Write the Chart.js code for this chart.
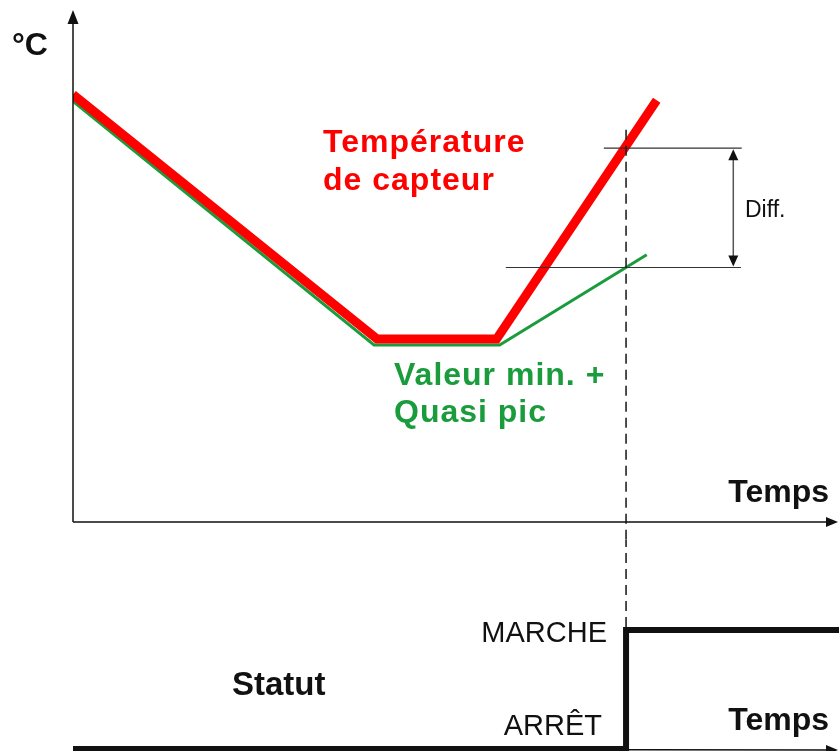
<!DOCTYPE html>
<html>
<head>
<meta charset="utf-8">
<script src="https://cdn.jsdelivr.net/npm/chart.js@4/dist/chart.umd.min.js"></script>
<style>
  body { margin: 0; background: #fff; }
  #wrap { position: relative; width: 839px; height: 751px; overflow: hidden; }
  canvas { position: absolute; left: 0; }
  #temp { top: 0; }
  #status { top: 540px; }
</style>
</head>
<body>
<div id="wrap">
  <canvas id="temp" width="839" height="540"></canvas>
  <canvas id="status" width="839" height="211"></canvas>
</div>
<script>
// Sensor temperature (red) and min value + quasi peak (green), time on x
const timeSensor = [0, 39.7, 55.3, 76.2];
const tempSensor = [83.8, 35.9, 35.9, 82.7];
const timeMinPeak = [0, 39.3, 55.7, 74.9];
const tempMinPeak = [82.5, 34.7, 34.7, 52.4];

// Switching point and the differential it is based on
const switchTime = 72.2;
const diffHigh = 73.3;
const diffLow = 49.9;

// Status: 0 = ARRÊT, 1 = MARCHE
const statusTime = [0, switchTime, 100];
const statusValues = [0, 1, 1];
const statusLabels = ['ARRÊT', 'MARCHE'];

const RED = '#ff0000';
const GREEN = '#1a9c3c';
const INK = '#111';
const FONT = '"Liberation Sans", Arial, sans-serif';

const toPoints = (xs, ys) => xs.map((x, i) => ({ x, y: ys[i] }));

function text(ctx, str, x, y, { size = 32, bold = true, color = INK, align = 'left', spacing = 0 } = {}) {
    ctx.save();
    ctx.font = `${bold ? 'bold ' : ''}${size}px ${FONT}`;
    ctx.fillStyle = color;
    ctx.textAlign = align;
    ctx.textBaseline = 'alphabetic';
    if (spacing) ctx.letterSpacing = `${spacing}px`;
    ctx.fillText(str, x, y);
    ctx.restore();
}

function arrowHead(ctx, tipX, tipY, dir, len, half) {
    // dir: 'up' | 'down' | 'right'
    ctx.beginPath();
    ctx.moveTo(tipX, tipY);
    if (dir === 'up') {
        ctx.lineTo(tipX - half, tipY + len);
        ctx.lineTo(tipX + half, tipY + len);
    } else if (dir === 'down') {
        ctx.lineTo(tipX - half, tipY - len);
        ctx.lineTo(tipX + half, tipY - len);
    } else {
        ctx.lineTo(tipX - len, tipY - half);
        ctx.lineTo(tipX - len, tipY + half);
    }
    ctx.closePath();
    ctx.fill();
}

function vDashed(ctx, x, y1, y2) {
    ctx.save();
    ctx.strokeStyle = '#222';
    ctx.lineWidth = 1.6;
    ctx.setLineDash([10, 6]);
    ctx.beginPath();
    ctx.moveTo(x, y1);
    ctx.lineTo(x, y2);
    ctx.stroke();
    ctx.restore();
}

const tempDecor = {
    id: 'tempDecor',
    afterDatasetsDraw(chart) {
        const { ctx, chartArea: a, scales: { x, y } } = chart;
        const sx = x.getPixelForValue(switchTime);
        const yHigh = y.getPixelForValue(diffHigh);
        const yLow = y.getPixelForValue(diffLow);
        const arrowX = x.getPixelForValue(86.2);

        // threshold lines
        ctx.save();
        ctx.strokeStyle = '#333';
        ctx.lineWidth = 1.2;
        ctx.beginPath();
        ctx.moveTo(x.getPixelForValue(69.3), yHigh);
        ctx.lineTo(x.getPixelForValue(87.3), yHigh);
        ctx.moveTo(x.getPixelForValue(56.5), yLow);
        ctx.lineTo(x.getPixelForValue(87.2), yLow);
        ctx.stroke();

        // Diff. arrow
        ctx.strokeStyle = '#555';
        ctx.lineWidth = 1.5;
        ctx.beginPath();
        ctx.moveTo(arrowX, yHigh + 8);
        ctx.lineTo(arrowX, yLow - 8);
        ctx.stroke();
        ctx.fillStyle = INK;
        arrowHead(ctx, arrowX, yHigh + 1, 'up', 11, 5);
        arrowHead(ctx, arrowX, yLow - 1, 'down', 11, 5);
        ctx.restore();

        vDashed(ctx, sx, y.getPixelForValue(76.9), chart.height);

        // axes with arrows
        ctx.save();
        ctx.strokeStyle = INK;
        ctx.fillStyle = INK;
        ctx.lineWidth = 1.5;
        ctx.beginPath();
        ctx.moveTo(a.left, a.bottom);
        ctx.lineTo(a.left, a.top + 6);
        ctx.moveTo(a.left, a.bottom);
        ctx.lineTo(a.right - 6, a.bottom);
        ctx.stroke();
        arrowHead(ctx, a.left, a.top - 2, 'up', 14, 5.5);
        arrowHead(ctx, a.right - 1, a.bottom, 'right', 12, 5);
        ctx.restore();

        text(ctx, '°C', 12, 55, { size: 32 });
        text(ctx, 'Temps', 829, 502, { size: 32, align: 'right' });
        text(ctx, 'Diff.', 745, 217, { size: 23, bold: false });
        text(ctx, 'Température', 323, 152, { color: RED, spacing: 1 });
        text(ctx, 'de capteur', 323, 190, { color: RED, spacing: 1 });
        text(ctx, 'Valeur min. +', 394, 385, { color: GREEN, spacing: 1 });
        text(ctx, 'Quasi pic', 394, 422, { color: GREEN, spacing: 1 });
    },
};

const statusDecor = {
    id: 'statusDecor',
    beforeDatasetsDraw(chart) {
        const { ctx, chartArea: a, scales: { x, y } } = chart;
        vDashed(ctx, x.getPixelForValue(switchTime), -3, y.getPixelForValue(1));
        ctx.save();
        ctx.strokeStyle = INK;
        ctx.fillStyle = INK;
        ctx.lineWidth = 1.5;
        ctx.beginPath();
        ctx.moveTo(a.left, y.getPixelForValue(0));
        ctx.lineTo(a.right - 6, y.getPixelForValue(0) + 1);
        ctx.stroke();
        arrowHead(ctx, a.right - 1, y.getPixelForValue(0) + 1, 'right', 12, 5);
        ctx.restore();
    },
    afterDatasetsDraw(chart) {
        const { ctx, scales: { y } } = chart;
        text(ctx, statusLabels[1], 607, y.getPixelForValue(1) + 12, { size: 29, bold: false, align: 'right' });
        text(ctx, statusLabels[0], 602, y.getPixelForValue(0) - 14, { size: 29, bold: false, align: 'right' });
        text(ctx, 'Statut', 232, 155, { size: 33 });
        text(ctx, 'Temps', 829, 190, { size: 32, align: 'right' });
    },
};

const common = {
    responsive: false,
    animation: false,
    devicePixelRatio: 1,
    events: [],
    plugins: { legend: { display: false }, tooltip: { enabled: false } },
    elements: { point: { radius: 0 } },
};

new Chart(document.getElementById('temp'), {
    type: 'line',
    data: {
        datasets: [
            {
                label: 'Température de capteur',
                data: toPoints(timeSensor, tempSensor),
                borderColor: RED,
                borderWidth: 9,
                borderJoinStyle: 'miter',
            },
            {
                label: 'Valeur min. + Quasi pic',
                data: toPoints(timeMinPeak, tempMinPeak),
                borderColor: GREEN,
                borderWidth: 3,
                borderJoinStyle: 'miter',
            },
        ],
    },
    options: {
        ...common,
        layout: { padding: { left: 73, top: 12, right: 0, bottom: 18 } },
        scales: {
            x: { type: 'linear', min: 0, max: 100, display: false },
            y: { min: 0, max: 100, display: false },
        },
    },
    plugins: [tempDecor],
});

new Chart(document.getElementById('status'), {
    type: 'line',
    data: {
        datasets: [
            {
                label: 'Statut',
                data: toPoints(statusTime, statusValues),
                stepped: true,
                borderColor: INK,
                borderWidth: 6,
                borderJoinStyle: 'miter',
                clip: 8,
            },
        ],
    },
    options: {
        ...common,
        layout: { padding: { left: 73, top: 90, right: 0, bottom: 2 } },
        scales: {
            x: { type: 'linear', min: 0, max: 100, display: false },
            y: { min: 0, max: 1, display: false },
        },
    },
    plugins: [statusDecor],
});
</script>
</body>
</html>
